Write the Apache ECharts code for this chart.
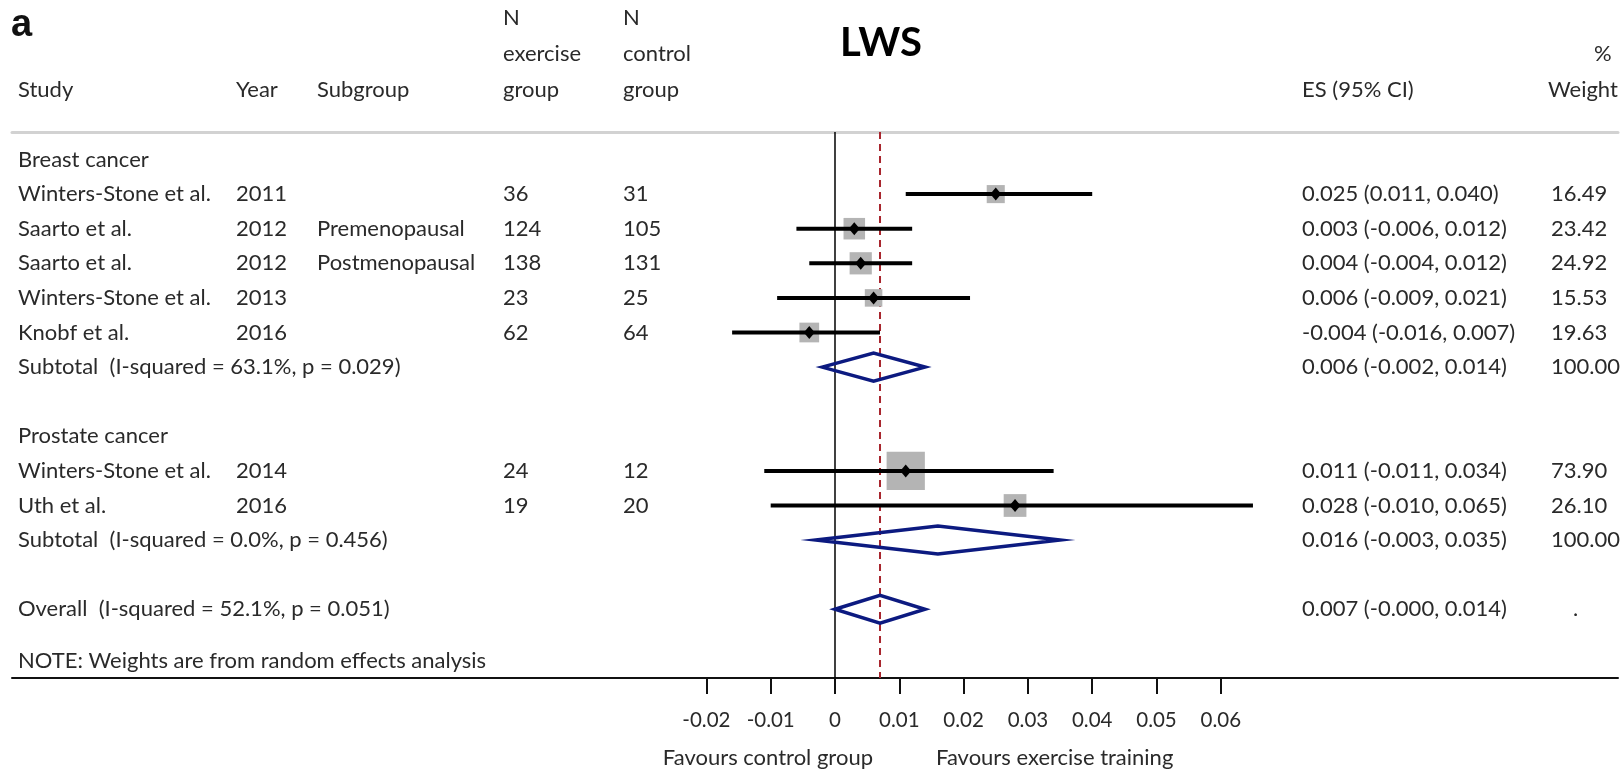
<!DOCTYPE html>
<html><head><meta charset="utf-8">
<script src="https://cdn.jsdelivr.net/npm/echarts@6/dist/echarts.min.js"></script>
<style>html,body{margin:0;padding:0;background:#fff}#c{width:1621px;height:770px}</style>
</head><body><div id="c"></div>
<script>
// ---------- data ----------
const studies    = ["Winters-Stone et al.","Saarto et al.","Saarto et al.","Winters-Stone et al.","Knobf et al.","Winters-Stone et al.","Uth et al."];
const years      = ["2011","2012","2012","2013","2016","2014","2016"];
const subgroups  = ["","Premenopausal","Postmenopausal","","","",""];
const nExercise  = [36,124,138,23,62,24,19];
const nControl   = [31,105,131,25,64,12,20];
const esValues   = [0.025,0.003,0.004,0.006,-0.004,0.011,0.028];
const ciLow      = [0.011,-0.006,-0.004,-0.009,-0.016,-0.011,-0.010];
const ciHigh     = [0.040,0.012,0.012,0.021,0.007,0.034,0.065];
const weights    = [16.49,23.42,24.92,15.53,19.63,73.90,26.10];
const studyRows  = [1,2,3,4,5,9,10];

const groupNames = ["Breast cancer","Prostate cancer"];
const groupRows  = [0,8];

const pooledLabels = ["Subtotal  (I-squared = 63.1%, p = 0.029)","Subtotal  (I-squared = 0.0%, p = 0.456)","Overall  (I-squared = 52.1%, p = 0.051)"];
const pooledES     = [0.006,0.016,0.007];
const pooledLow    = [-0.002,-0.003,-0.000];
const pooledHigh   = [0.014,0.035,0.014];
const pooledWeight = ["100.00","100.00","."];
const pooledRows   = [6,11,13];

const noteText = "NOTE: Weights are from random effects analysis";
const noteRow  = 14.5;

const tickValues = [-0.02,-0.01,0,0.01,0.02,0.03,0.04,0.05,0.06];
const tickLabels = ["-0.02","-0.01","0","0.01","0.02","0.03","0.04","0.05","0.06"];
const nullValue = 0;
const overallES = pooledES[2];

// ---------- layout ----------
const FONT = "Lato, 'Open Sans', sans-serif";
const TXT = '#2a2a2a';
const FS = 22;
const COL = {study:18, year:236, sub:317, nex:503, nctl:623, es:1302, w:1551};
const BOX_K = 4.45;

function fmt(v){ return ((v<0 || Object.is(v,-0)) ? '-' : '') + Math.abs(v).toFixed(3); }
function esText(e,l,h){ return fmt(e)+' ('+fmt(l)+', '+fmt(h)+')'; }

// text rows built from data
const textRows = [];
groupNames.forEach((g,i)=>textRows.push({row:groupRows[i], cells:[[COL.study,g]]}));
studies.forEach((s,i)=>textRows.push({row:studyRows[i], cells:[
  [COL.study,s],[COL.year,years[i]],[COL.sub,subgroups[i]],
  [COL.nex,String(nExercise[i])],[COL.nctl,String(nControl[i])],
  [COL.es,esText(esValues[i],ciLow[i],ciHigh[i])],[COL.w,weights[i].toFixed(2)]
]}));
pooledLabels.forEach((p,i)=>textRows.push({row:pooledRows[i], cells:[
  [COL.study,p],[COL.es,esText(pooledES[i],pooledLow[i],pooledHigh[i])],[COL.w + (pooledWeight[i]==='.'?22:0),pooledWeight[i]]
]}));
textRows.push({row:noteRow, cells:[[COL.study,noteText]]});

const chart = echarts.init(document.getElementById('c'));

function txt(x,y,text,extra){
  return {type:'text', x:x, y:y, style:Object.assign({text:text, fill:TXT, font:FS+'px '+FONT, textAlign:'left', textVerticalAlign:'middle'}, extra||{})};
}

const refLines = [
  {value:nullValue, color:'#000', width:1.5, dash:null},
  {value:overallES, color:'#a8262e', width:2, dash:[7,5]}
];

const option = {
  animation:false,
  backgroundColor:'#fff',
  grid:{left:12, right:3, top:132, bottom:92, containLabel:false},
  xAxis:[{
    type:'value', min:-0.12799, max:0.12177, position:'bottom',
    splitLine:{show:false},
    axisLine:{show:true, onZero:false, lineStyle:{color:'#111', width:2}},
    axisTick:{show:true, customValues:tickValues, length:16, lineStyle:{color:'#111', width:2}},
    axisLabel:{show:true, customValues:tickValues, margin:32, color:TXT, fontSize:20.5, fontFamily:FONT,
      formatter:function(v){ const k = tickValues.findIndex(t=>Math.abs(t-v)<1e-9); return k>=0?tickLabels[k]:''; }}
  },{
    type:'value', min:-0.12799, max:0.12177, position:'top',
    splitLine:{show:false}, axisTick:{show:false}, axisLabel:{show:false},
    axisLine:{show:true, onZero:false, lineStyle:{color:'#d2d2d2', width:3}}
  }],
  yAxis:{type:'value', inverse:true, min:-0.795, max:14.986, show:false},
  series:[
    {
      type:'custom', name:'reference lines', clip:false, silent:true, z:1,
      data: refLines.map(l=>[l.value]),
      encode:{x:0},
      renderItem:function(params, api){
        const l = refLines[params.dataIndex];
        const cs = params.coordSys;
        const x = api.coord([api.value(0), 0])[0];
        return {type:'line', shape:{x1:x, y1:cs.y, x2:x, y2:cs.y+cs.height},
          style:{stroke:l.color, lineWidth:l.width, lineDash:l.dash}};
      }
    },
    {
      type:'custom', name:'studies', clip:false, z:2,
      data: esValues.map((e,i)=>[e, studyRows[i], ciLow[i], ciHigh[i], weights[i]]),
      encode:{x:[0,2,3], y:1},
      renderItem:function(params, api){
        const r = api.value(1);
        const c = api.coord([api.value(0), r]);
        const pL = api.coord([api.value(2), r]);
        const pH = api.coord([api.value(3), r]);
        const s = BOX_K*Math.sqrt(api.value(4));
        return {type:'group', children:[
          {type:'rect', shape:{x:c[0]-s/2, y:c[1]-s/2, width:s, height:s}, style:{fill:'#b4b4b4'}},
          {type:'line', shape:{x1:pL[0], y1:c[1], x2:pH[0], y2:c[1]}, style:{stroke:'#000', lineWidth:4}},
          {type:'polygon', shape:{points:[[c[0]-5.5,c[1]],[c[0],c[1]-6.5],[c[0]+5.5,c[1]],[c[0],c[1]+6.5]]}, style:{fill:'#000'}}
        ]};
      }
    },
    {
      type:'custom', name:'pooled', clip:false, z:2,
      data: pooledES.map((e,i)=>[e, pooledRows[i], pooledLow[i], pooledHigh[i]]),
      encode:{x:[0,2,3], y:1},
      renderItem:function(params, api){
        const r = api.value(1);
        const c = api.coord([api.value(0), r]);
        const pL = api.coord([api.value(2), r]);
        const pH = api.coord([api.value(3), r]);
        const h = 14;
        return {type:'polygon', shape:{points:[[pL[0],c[1]],[c[0],c[1]-h],[pH[0],c[1]],[c[0],c[1]+h]]},
          style:{fill:'none', stroke:'#0c1a80', lineWidth:3.5, lineJoin:'miter'}};
      }
    },
    {
      type:'custom', name:'table', clip:false, silent:true,
      data: textRows.map(t=>[0, t.row]),
      encode:{x:0, y:1},
      renderItem:function(params, api){
        const t = textRows[params.dataIndex];
        const y = api.coord([0, api.value(1)])[1];
        return {type:'group', children:t.cells.filter(c=>c[1]!=='').map(c=>({
          type:'text', x:c[0], y:y,
          style:{text:c[1], fill:TXT, font:FS+'px '+FONT, textAlign:'left', textVerticalAlign:'middle'}
        }))};
      }
    }
  ],
  graphic:[
    txt(11, 26, 'a', {font:'bold 38px "Liberation Sans", Arial, sans-serif', fill:'#111'}),
    txt(881, 43, 'LWS', {font:'bold 40px '+FONT, fill:'#000', textAlign:'center'}),
    txt(COL.nex, 18, 'N'), txt(COL.nex, 54, 'exercise'), txt(COL.nex, 90, 'group'),
    txt(COL.nctl, 18, 'N'), txt(COL.nctl, 54, 'control'), txt(COL.nctl, 90, 'group'),
    txt(COL.study, 90, 'Study'), txt(COL.year, 90, 'Year'), txt(COL.sub, 90, 'Subgroup'),
    txt(1302, 90, 'ES (95% CI)'),
    txt(1594, 54, '%'), txt(1548, 90, 'Weight'),
    txt(873, 758, 'Favours control group', {textAlign:'right'}),
    txt(936, 758, 'Favours exercise training')
  ]
};
chart.setOption(option);
</script>
</body></html>
